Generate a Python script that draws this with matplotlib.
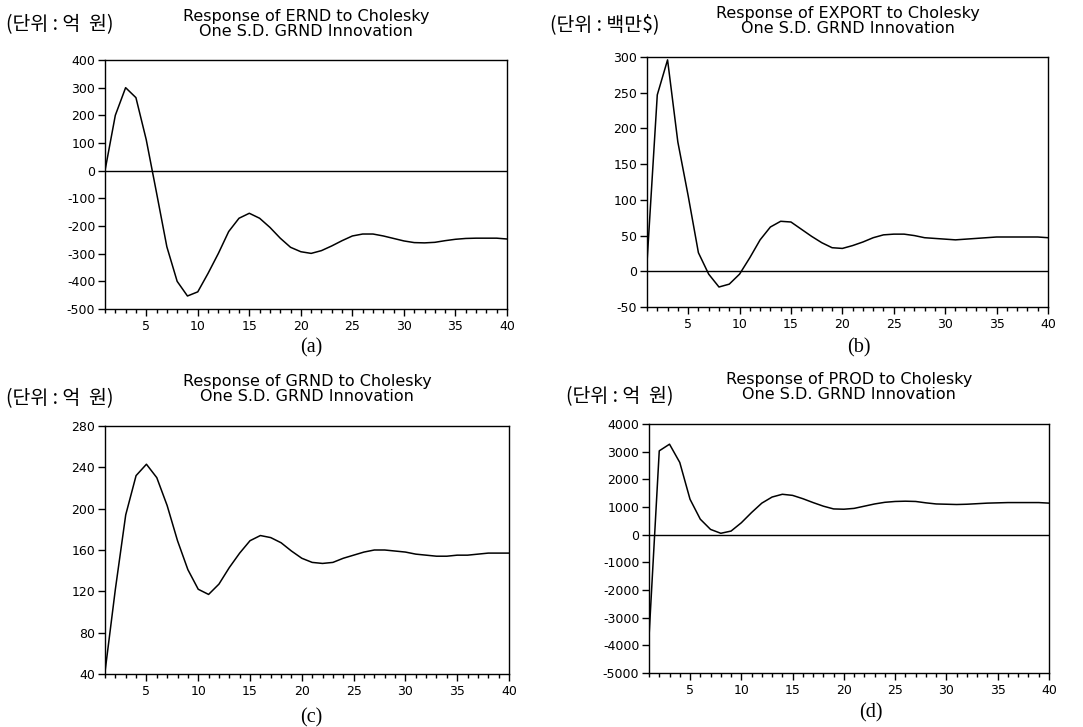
import matplotlib
matplotlib.use("Agg")
import matplotlib.pyplot as plt
from matplotlib.ticker import MultipleLocator, FixedLocator

periods = list(range(1, 41))

ernd = [0, 200, 300, 264, 112, -80, -275, -400, -453, -438, -371, -299, -220, -172, -154,
        -172, -205, -244, -277, -293, -299, -289, -272, -253, -236, -229, -229, -236, -245, -254,
        -260, -261, -259, -253, -248, -245, -244, -244, -244, -247]
export = [12, 247, 296, 181, 106, 26, -4, -22, -18, -4, 19, 44, 62, 70, 69,
          59, 49, 40, 33, 32, 36, 41, 47, 51, 52, 52, 50, 47, 46, 45,
          44, 45, 46, 47, 48, 48, 48, 48, 48, 47]
grnd = [42, 122, 194, 232, 243, 230, 203, 169, 141, 122, 117, 127, 143, 157, 169,
        174, 172, 167, 159, 152, 148, 147, 148, 152, 155, 158, 160, 160, 159, 158,
        156, 155, 154, 154, 155, 155, 156, 157, 157, 157]
prod = [-3700, 3030, 3270, 2610, 1280, 560, 190, 50, 130, 430, 800, 1140, 1360, 1460, 1420,
        1300, 1160, 1030, 930, 920, 950, 1030, 1110, 1170, 1200, 1210, 1200, 1150, 1110, 1100,
        1090, 1100, 1120, 1140, 1150, 1160, 1160, 1160, 1160, 1140]

titles = ["Response of ERND to Cholesky\nOne S.D. GRND Innovation",
          "Response of EXPORT to Cholesky\nOne S.D. GRND Innovation",
          "Response of GRND to Cholesky\nOne S.D. GRND Innovation",
          "Response of PROD to Cholesky\nOne S.D. GRND Innovation"]
units = ["(단위 : 억  원)", "(단위 : 백만$)", "(단위 : 억  원)", "(단위 : 억  원)"]
letters = ["(a)", "(b)", "(c)", "(d)"]
yticks = [[-500, -400, -300, -200, -100, 0, 100, 200, 300, 400],
          [-50, 0, 50, 100, 150, 200, 250, 300],
          [40, 80, 120, 160, 200, 240, 280],
          [-5000, -4000, -3000, -2000, -1000, 0, 1000, 2000, 3000, 4000]]
ylabels = [["-500", "-400", "-300", "-200", "-100", "0", "100", "200", "300", "400"],
           ["-50", "0", "50", "100", "150", "200", "250", "300"],
           ["40", "80", "120", "160", "200", "240", "280"],
           ["-5000", "-4000", "-3000", "-2000", "-1000", "0", "1000", "2000", "3000", "4000"]]
series = [ernd, export, grnd, prod]
zero_line = [True, True, False, True]

W, H = 1083, 727
fig = plt.figure(figsize=(W / 100, H / 100), dpi=100)

# pixel boxes: left, right, top, bottom
boxes = [(105, 507, 60, 309), (647, 1048, 57, 307), (105, 509, 426, 674), (649, 1049, 424, 673)]
title_y = [24, 21, 389, 387]
unit_pos = [(6, 25), (550, 25), (6, 399), (566, 397)]
letter_pos = [(311, 348), (859, 348), (311, 718), (871, 713)]

sans = ["DejaVu Sans"]
kor = ["Noto Sans CJK KR", "DejaVu Sans"]

for i in range(4):
    l, r, t, b = boxes[i]
    ax = fig.add_axes([l / W, 1 - b / H, (r - l) / W, (b - t) / H])
    ax.plot(periods, series[i], color="black", lw=1.1)
    if zero_line[i]:
        ax.axhline(0, color="black", lw=1.0)
    ax.set_xlim(1, 40)
    ax.set_ylim(yticks[i][0], yticks[i][-1])
    ax.xaxis.set_major_locator(FixedLocator([5, 10, 15, 20, 25, 30, 35, 40]))
    ax.xaxis.set_minor_locator(MultipleLocator(1))
    ax.set_yticks(yticks[i])
    ax.set_yticklabels(ylabels[i])
    ax.tick_params(axis="x", which="major", direction="out", length=5, width=1,
                   labelsize=9, pad=3, top=False)
    ax.tick_params(axis="x", which="minor", direction="out", length=3, width=1, top=False)
    ax.tick_params(axis="y", which="both", direction="out", length=5, width=1,
                   labelsize=9, pad=2, right=False)
    for lab in ax.get_xticklabels() + ax.get_yticklabels():
        lab.set_family(sans)
    for sp in ax.spines.values():
        sp.set_linewidth(1.0)
    cx = (l + r) / 2
    fig.text(cx / W, 1 - title_y[i] / H, titles[i], ha="center", va="center",
             fontsize=11.5, family=sans, linespacing=1.0)
    ux, uy = unit_pos[i]
    fig.text(ux / W, 1 - uy / H, units[i], ha="left", va="center",
             fontsize=14, family=kor)
    lx, ly = letter_pos[i]
    fig.text(lx / W, 1 - ly / H, letters[i], ha="center", va="center",
             fontsize=14.5, family=["Liberation Serif", "DejaVu Serif"])

fig.savefig("out.png", dpi=100)
